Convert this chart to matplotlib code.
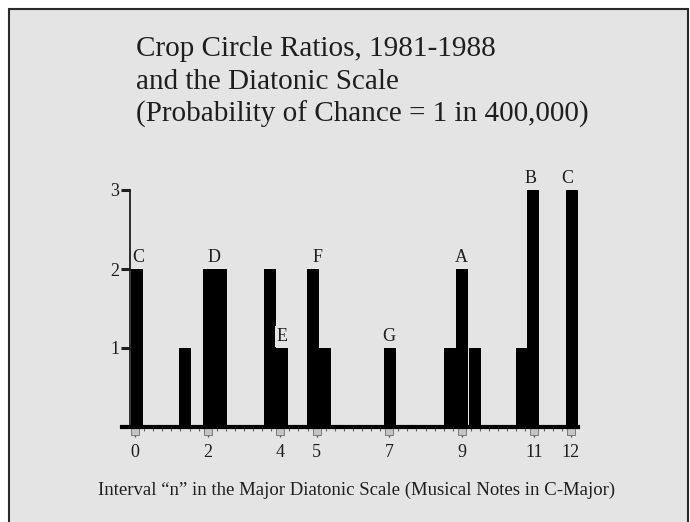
import numpy as np
import matplotlib
matplotlib.use("Agg")
import matplotlib.pyplot as plt
import matplotlib.transforms as mtransforms
from matplotlib.patches import Rectangle

# bar centres (interval n) and counts
bar_pos = [0.04, 1.37, 2.03, 2.37, 3.72, 4.05, 4.90, 5.22, 7.02, 8.68, 9.00, 9.35, 10.65, 10.97, 12.04]
bar_count = [2, 1, 2, 2, 2, 1, 2, 1, 1, 1, 2, 1, 1, 3, 3]

# note letters above the bars
note_names = ["C", "D", "E", "F", "G", "A", "B", "C"]
note_x = [0.08, 2.17, 4.05, 5.03, 7.0, 9.0, 10.9, 11.9]
note_y = [2, 2, 1, 2, 1, 2, 3, 3]

x_ticks = [0, 2, 4, 5, 7, 9, 11, 12]
y_ticks = [1, 2, 3]

title_lines = ["Crop Circle Ratios, 1981-1988",
               "and the Diatonic Scale",
               "(Probability of Chance = 1 in 400,000)"]
x_label = "Interval \u201cn\u201d in the Major Diatonic Scale (Musical Notes in C-Major)"

bg = "#e4e4e4"
ink = "#1e1e1e"
serif = ["Liberation Serif", "DejaVu Serif"]

fig = plt.figure(figsize=(6.9, 5.22), dpi=100, facecolor="white")
# slide background with dark frame
fig.patches.append(Rectangle((9 / 690, -0.02), 679 / 690, 1.02 - 9 / 522,
                             transform=fig.transFigure, facecolor=bg,
                             edgecolor="#2a2a2a", linewidth=1.5, zorder=-5))

ax = fig.add_axes([130 / 690, 95 / 522, 448 / 690, 237 / 522])
ax.set_facecolor("none")
ax.set_zorder(2)

ax.bar(bar_pos, bar_count, width=0.33, color="black", linewidth=0, zorder=3)

ax.set_xlim(-0.14, 12.2)
ax.set_ylim(0, 3)

for s in ["top", "right", "bottom"]:
    ax.spines[s].set_visible(False)
ax.spines["left"].set_color(ink)
ax.spines["left"].set_linewidth(1.3)

# thick baseline reaching a bit left of the y axis
ax.axhline(0, xmin=-0.018, xmax=1.0, color="black", linewidth=3, clip_on=False, zorder=4)

ax.set_yticks(y_ticks)
ax.set_yticklabels([str(v) for v in y_ticks], fontfamily=serif, fontsize=13, color=ink)
ax.tick_params(axis="y", direction="out", length=6.5, width=2.2, color=ink, pad=1)

ax.set_xticks(x_ticks)
ax.set_xticklabels([str(v) for v in x_ticks], fontfamily=serif, fontsize=13, color=ink)
ax.set_xticks(np.arange(0, 12.01, 0.25), minor=True)
ax.tick_params(axis="x", which="major", direction="out", length=7, width=1, color="#555555", pad=5)
ax.tick_params(axis="x", which="minor", direction="out", length=3, width=0.8, color="#666666")

# little grey tabs under the labelled ticks
tab_tr = mtransforms.offset_copy(ax.transData, fig=fig, x=0, y=-3, units="points")
ax.plot(x_ticks, [0] * len(x_ticks), linestyle="none", marker="s", markersize=5.5,
        markerfacecolor="#c4c4c4", markeredgecolor="#7a7a7a", markeredgewidth=0.7,
        transform=tab_tr, clip_on=False, zorder=2)

for name, nx, ny in zip(note_names, note_x, note_y):
    kw = {}
    if name == "E":
        kw["bbox"] = dict(boxstyle="square,pad=0.1", facecolor=bg, edgecolor="none")
    ax.text(nx, ny + 0.04, name, ha="center", va="bottom", fontfamily=serif,
            fontsize=13, color=ink, zorder=5, **kw)

for i, line in enumerate(title_lines):
    fig.text(136 / 690, 1 - (56 + 33 * i) / 522, line, ha="left", va="baseline",
             fontfamily=serif, fontsize=21, color=ink)

fig.text(357 / 690, 1 - 495 / 522, x_label, ha="center", va="baseline",
         fontfamily=serif, fontsize=13.5, color=ink)

fig.savefig("out.png", dpi=100, facecolor="white")
